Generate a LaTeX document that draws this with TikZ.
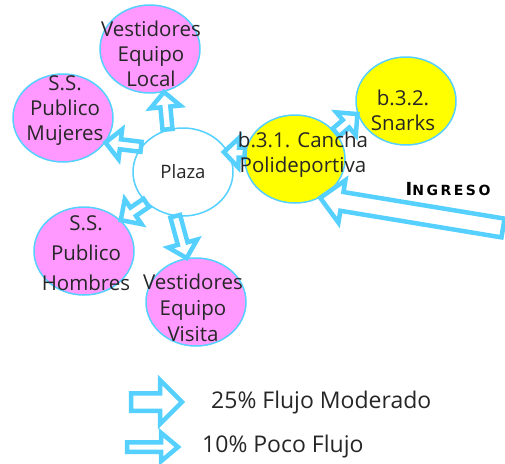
\documentclass[tikz,border=0pt]{standalone}
\usepackage{fontspec}
\setmainfont{Open Sans}
\newfontfamily\ingresofont[LetterSpace=18]{DejaVu Sans}
\usetikzlibrary{calc,shapes.geometric}
\definecolor{flcyan}{HTML}{55D0FF}
\definecolor{flpink}{HTML}{FF99FF}
\definecolor{flyellow}{HTML}{FFFF00}
\definecolor{fltext}{HTML}{262626}

% hollow block arrow: start, tip, shaft half width, head half width, head length
\newcommand{\flujo}[5]{%
  \draw[flecha] ($#1!#3!90:#2$) -- ($#2!#5!#1!#3!-90:#1$)
    -- ($#2!#5!#1!#4!-90:#1$) -- #2 -- ($#2!#5!#1!#4!90:#1$)
    -- ($#2!#5!#1!#3!90:#1$) -- ($#1!#3!-90:#2$) -- cycle;}
\newcommand{\poco}[2]{\flujo{#1}{#2}{5pt}{15pt}{15pt}}
\newcommand{\moderado}[2]{\flujo{#1}{#2}{9.5pt}{21.5pt}{22pt}}

\begin{document}
\begin{tikzpicture}[x=1pt,y=-1pt,
    zona/.style={ellipse,draw=flcyan,line width=1.5pt,minimum width=100pt,minimum height=88pt,inner sep=0pt},
    rotulo/.style={text=fltext,align=center,inner sep=0pt,font=\fontsize{20.5}{25}\selectfont},
    flecha/.style={draw=flcyan,fill=white,line width=4.5pt}]
  \clip (0,0) rectangle (505,463);
  \fill[white] (0,0) rectangle (505,463);

  \node[zona,fill=flpink] (local) at (150,49) {};
  \node[zona,fill=flpink] (mujeres) at (63,118) {};
  \node[zona,fill=white] (plaza) at (183,172) {};
  \node[zona,fill=flyellow] (cancha) at (295,159) {};
  \node[zona,fill=flyellow] (snarks) at (406,101) {};
  \node[zona,fill=flpink] (hombres) at (84,251) {};
  \node[zona,fill=flpink] (visita) at (196,302) {};
  \coordinate (entrada) at (503,228);

  \poco{(plaza.110)}{(local.-72)}
  \poco{(plaza.149)}{(mujeres.-30)}
  \poco{(plaza.-140)}{(hombres.40)}
  \poco{(plaza.-100)}{(visita.102)}
  \poco{(cancha.173)}{($(plaza)!0.92!(plaza.26)$)}
  \poco{(cancha.33)}{(snarks.195)}
  \moderado{(entrada)}{(cancha.-57)}

  \node[rotulo] (t-local) at ($(local)+(1,5)$) {Vestidores\\Equipo\\Local};
  \node[rotulo] (t-mujeres) at ($(mujeres)+(2,-7)$) {S.S.\\Publico\\Mujeres};
  \node[rotulo,font=\fontsize{18.5}{22}\selectfont] (t-plaza) at (plaza) {Plaza};
  \node[rotulo] (t-cancha) at ($(cancha)+(8,-4)$) {b.3.1. Cancha\\Polideportiva};
  \node[rotulo] (t-snarks) at ($(snarks)+(-3,9)$) {b.3.2.\\Snarks};
  \node[rotulo,font=\fontsize{20.5}{30}\selectfont] (t-hombres) at ($(hombres)+(2,2)$) {S.S.\\Publico\\Hombres};
  \node[rotulo,font=\fontsize{20.5}{26}\selectfont] (t-visita) at ($(visita)+(-3,6)$) {Vestidores\\Equipo\\Visita};
  \node[text=black,inner sep=0pt] (t-ingreso) at (448,189)
    {\ingresofont\bfseries{\fontsize{18}{18}\selectfont I}{\fontsize{14}{14}\selectfont NGRESO}};

  % legend
  \coordinate (mod-a) at (131,402);
  \coordinate (mod-b) at (182,402);
  \coordinate (poco-a) at (127,447);
  \coordinate (poco-b) at (178,447);
  \flujo{(mod-a)}{(mod-b)}{8.75pt}{22pt}{22pt}
  \flujo{(poco-a)}{(poco-b)}{4.75pt}{14.25pt}{17pt}
  \node[rotulo,anchor=west,font=\fontsize{23}{27}\selectfont] (t-mod) at (211,403) {25\% Flujo Moderado};
  \node[rotulo,anchor=west,font=\fontsize{23}{27}\selectfont] (t-poco) at (202,447) {10\% Poco Flujo};
\end{tikzpicture}
\end{document}
